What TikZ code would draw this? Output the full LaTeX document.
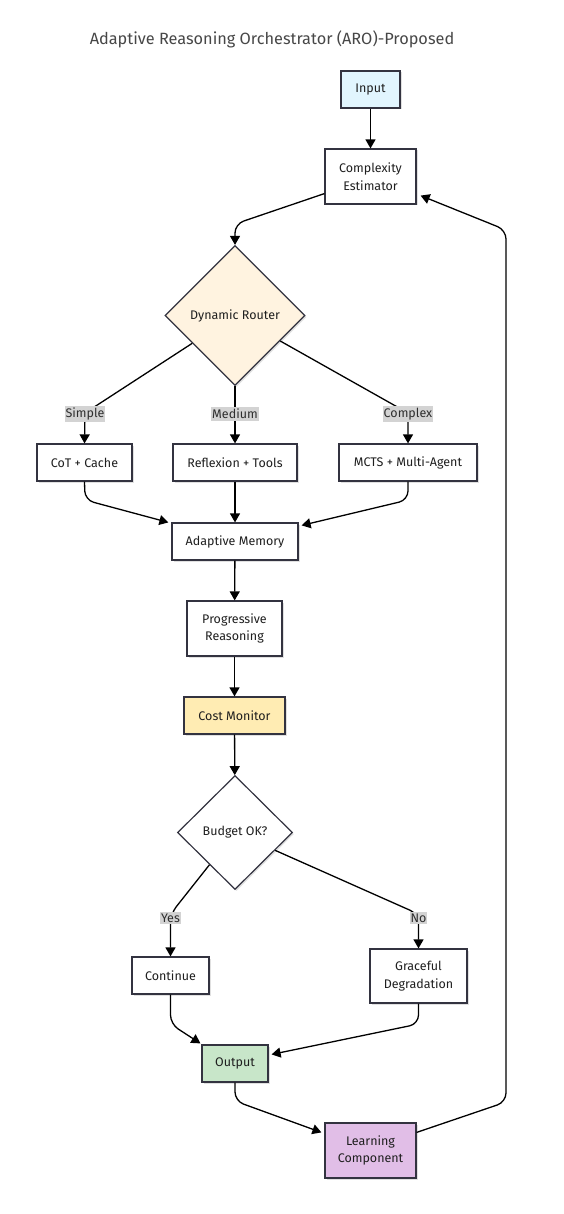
\documentclass[tikz,border=0pt]{standalone}
\usepackage{fontspec}
\setmainfont{Fira Sans}
\usetikzlibrary{arrows.meta,shapes.geometric,shadows}
\definecolor{bordc}{HTML}{333340}
\definecolor{inpc}{HTML}{E1F5FE}
\definecolor{routc}{HTML}{FFF3E0}
\definecolor{costc}{HTML}{FFECB3}
\definecolor{outc}{HTML}{C8E6C9}
\definecolor{learnc}{HTML}{E1BEE7}
\definecolor{lblc}{HTML}{D3D3D3}
\begin{document}
\begin{tikzpicture}[x=1pt,y=-1pt,
  shade box/.style={drop shadow={shadow xshift=1.5pt,shadow yshift=-1.5pt,opacity=0.12,fill=black}},
  box/.style={draw=bordc,line width=1.2pt,fill=white,inner sep=0pt,align=center,
    font=\fontsize{12.5}{17.5}\selectfont,text=black!88,shade box},
  dia/.style={diamond,draw=bordc,line width=1.2pt,fill=white,inner sep=0pt,aspect=1,
    font=\fontsize{12.5}{17.5}\selectfont,text=black!88,shade box},
  arr/.style={draw=black,line width=1.3pt,rounded corners=9pt,-{Triangle[width=10pt,length=9pt]}},
  lbl/.style={fill=lblc,inner xsep=1pt,inner ysep=2pt,font=\fontsize{12.5}{14}\selectfont,text=black!82},
  ttl/.style={font=\fontsize{16.3}{19}\selectfont,text=black!72}
]
\useasboundingbox[fill=white] (0,0) rectangle (564,1214);

\node[ttl] (title) at (272,39) {Adaptive Reasoning Orchestrator (ARO)-Proposed};

\node[box,fill=inpc,minimum width=59,minimum height=37] (inp) at (370.5,89.5) {Input};
\node[box,minimum width=91,minimum height=55] (cplx) at (370.5,176.5) {Complexity\\Estimator};
\node[dia,fill=routc,minimum width=140,minimum height=140] (rout) at (235,315.5) {Dynamic Router};
\node[box,minimum width=95,minimum height=37] (cot) at (84.5,462.5) {CoT + Cache};
\node[box,minimum width=124,minimum height=37] (refl) at (235,462.5) {Reflexion + Tools};
\node[box,minimum width=138,minimum height=37] (mcts) at (408,462.5) {MCTS + Multi-Agent};
\node[box,minimum width=126,minimum height=37] (mem) at (235,541.5) {Adaptive Memory};
\node[box,minimum width=95,minimum height=55] (prog) at (234.5,628.5) {Progressive\\Reasoning};
\node[box,fill=costc,minimum width=101,minimum height=37] (cost) at (234.5,715.5) {Cost Monitor};
\node[dia,minimum width=115,minimum height=114] (bud) at (235,832.5) {Budget OK?};
\node[box,minimum width=77,minimum height=37] (cont) at (170.5,975.5) {Continue};
\node[box,minimum width=97,minimum height=54] (grace) at (418.5,976) {Graceful\\Degradation};
\node[box,fill=outc,minimum width=66,minimum height=37] (outp) at (235,1063.5) {Output};
\node[box,fill=learnc,minimum width=91,minimum height=55] (learn) at (370.5,1150.5) {Learning\\Component};

\coordinate (b1) at (235,224);
\coordinate (bs) at (85,413);
\coordinate (bc) at (408,413);
\coordinate (bm1) at (85,500);
\coordinate (bm2) at (408,500);
\coordinate (by) at (170.5,914);
\coordinate (bn) at (418.5,914);
\coordinate (bo1) at (170.5,1024);
\coordinate (bo2) at (418.5,1024);
\coordinate (bl) at (235,1101);
\coordinate (fb1) at (506,1102);
\coordinate (fb2) at (506,230);

\draw[arr] (inp) -- (cplx);
\draw[arr] ([yshift=11pt]cplx.south west) -- (b1) -- (rout.north);
\draw[arr] (rout) -- (bs) -- (cot.north);
\draw[arr] (rout) -- (refl);
\draw[arr] (rout) -- (bc) -- (mcts.north);
\draw[arr] (cot.south) -- (bm1) -- ([xshift=-3pt]mem.north west);
\draw[arr] (refl) -- (mem);
\draw[arr] (mcts.south) -- (bm2) -- ([xshift=3pt,yshift=-3pt]mem.north east);
\draw[arr] (mem) -- (prog);
\draw[arr] (prog) -- (cost);
\draw[arr] (cost) -- (bud);
\draw[arr] (bud) -- (by) -- (cont.north);
\draw[arr] (bud) -- (bn) -- (grace.north);
\draw[arr] (cont.south) -- (bo1) -- ([xshift=-1pt,yshift=1pt]outp.north west);
\draw[arr] (grace.south) -- (bo2) -- ([xshift=3pt,yshift=-10pt]outp.north east);
\draw[arr] (outp.south) -- (bl) -- ([xshift=-3pt,yshift=-10pt]learn.north west);
\draw[arr] ([yshift=-10pt]learn.north east) -- (fb1) -- (fb2) -- ([xshift=4pt,yshift=9pt]cplx.south east);

\node[lbl] (ls) at (85,414) {Simple};
\node[lbl] (lm) at (235,414) {Medium};
\node[lbl] (lc) at (408,414) {Complex};
\node[lbl] (ly) at (170.5,918) {Yes};
\node[lbl] (ln) at (418.5,918) {No};
\end{tikzpicture}
\end{document}
